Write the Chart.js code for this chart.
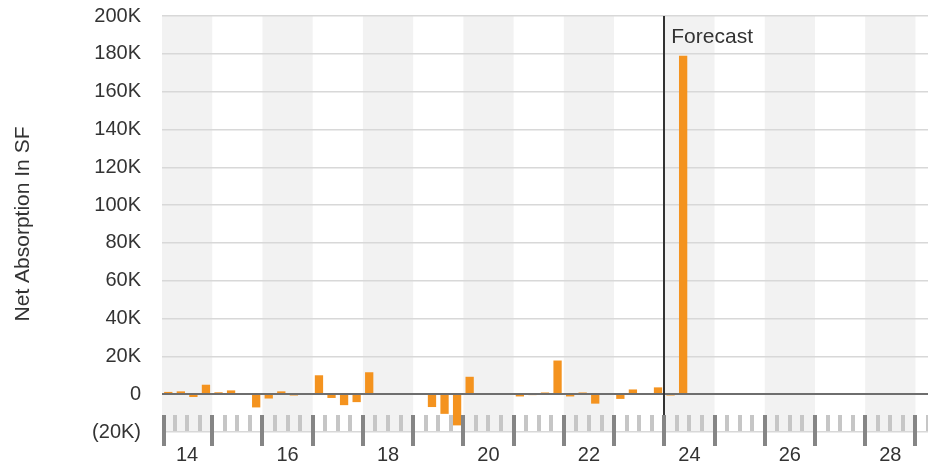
<!DOCTYPE html>
<html>
<head>
<meta charset="utf-8">
<script src="https://cdn.jsdelivr.net/npm/chart.js@4.4.1/dist/chart.umd.min.js"></script>
<style>
  html, body { margin: 0; padding: 0; background: #fff; }
  #wrap { width: 928px; height: 469px; }
</style>
</head>
<body>
<div id="wrap"><canvas id="absorption"></canvas></div>
<script>
// years on the axis (2014 - 2028), four quarters each
const years = ['14', '15', '16', '17', '18', '19', '20', '21', '22', '23', '24', '25', '26', '27', '28'];
const quarters = ['Q1', 'Q2', 'Q3', 'Q4'];

// net absorption per quarter, SF
const netAbsorption = [
  1200, 1500, -1500, 5000,      // 14
  1000, 2000, 0, -7000,         // 15
  -2300, 1500, -700, 0,         // 16
  10000, -2000, -5800, -4200,   // 17
  11600, 0, 0, 0,               // 18
  0, -6800, -10400, -16500,     // 19
  9200, 200, 200, 200,          // 20
  -1200, -500, 900, 17800,      // 21
  -1200, 900, -5000, -400,      // 22
  -2500, 2500, 0, 3600,         // 23
  -700, 179000, -400, 0,        // 24
  -200, -200, -200, 0,          // 25
  0, 200, 300, 500,             // 26
  600, 600, 600, 600,           // 27
  600, 600, 600, 600            // 28
];

const forecastYear = '24';
const yMin = -20000, yMax = 200000, yStep = 20000;

const quarterLabels = [];
years.forEach(y => quarters.forEach(q => quarterLabels.push(q + ' ' + y)));
const points = netAbsorption.map((v, i) => ({ x: i + 0.5, y: v, label: quarterLabels[i] }));

const fmtK = v => v === 0 ? '0' : (v < 0 ? '(' + Math.abs(v) / 1000 + 'K)' : v / 1000 + 'K');

const decor = {
  id: 'decor',
  beforeDraw(chart) {
    const { ctx, chartArea: a, scales: { x } } = chart;
    ctx.save();
    ctx.fillStyle = '#f2f2f2';
    years.forEach((yr, i) => {
      if (i % 2) return;
      const l = x.getPixelForValue(i * 4), r = x.getPixelForValue(i * 4 + 4);
      ctx.fillRect(l, a.top, r - l, a.bottom - a.top);
    });
    ctx.restore();
  },
  afterDatasetsDraw(chart) {
    const { ctx, chartArea: a, scales: { x, y } } = chart;
    ctx.save();
    // zero line
    const y0 = Math.round(y.getPixelForValue(0));
    ctx.fillStyle = '#6e6e6e';
    ctx.fillRect(a.left, y0 - 1, a.right - a.left, 2);
    // forecast divider
    const fx = x.getPixelForValue(years.indexOf(forecastYear) * 4);
    ctx.fillStyle = '#333';
    ctx.fillRect(Math.round(fx) - 1, a.top, 2, a.bottom - 17 - a.top);
    ctx.font = '21px "Liberation Sans", Arial, sans-serif';
    ctx.textBaseline = 'middle';
    ctx.fillText('Forecast', fx + 7, a.top + 21);
    // quarter / year tick marks
    const n = years.length * 4;
    for (let q = 0; q <= n + 1; q++) {
      const px = Math.round(x.getPixelForValue(q));
      const left = q === 0 ? px : px - 2;
      if (q % 4 === 0) {
        ctx.fillStyle = '#858585';
        ctx.fillRect(left, a.bottom - 17, 4, 31);
      } else {
        ctx.fillStyle = '#c6c6c6';
        ctx.fillRect(left, a.bottom - 17, 4, 16);
      }
    }
    ctx.restore();
  }
};

new Chart(document.getElementById('absorption'), {
  type: 'bar',
  data: {
    datasets: [{
      label: 'Net Absorption In SF',
      data: points,
      backgroundColor: '#f4931f',
      borderWidth: 0,
      barPercentage: 0.66,
      categoryPercentage: 1
    }]
  },
  options: {
    responsive: true,
    maintainAspectRatio: false,
    animation: false,
    layout: { padding: { top: 16, right: 0, bottom: 0, left: 0 } },
    plugins: {
      legend: { display: false },
      tooltip: { enabled: false }
    },
    scales: {
      x: {
        type: 'linear',
        min: 0,
        max: years.length * 4 + 1,
        offset: false,
        grid: { display: false, drawTicks: false },
        border: { display: false },
        afterFit(scale) {
          scale.height = 37;
          scale.paddingLeft = 0;
          scale.paddingRight = 0;
        },
        ticks: {
          stepSize: 1,
          autoSkip: false,
          maxRotation: 0,
          padding: 11,
          color: '#333',
          font: { family: '"Liberation Sans", Arial, sans-serif', size: 20 },
          callback(v) {
            if (v % 4 !== 2) return '';
            const i = (v - 2) / 4;
            return i % 2 === 0 && years[i] ? years[i] : '';
          }
        }
      },
      y: {
        min: yMin,
        max: yMax,
        grid: {
          color: ctx => ctx.tick && ctx.tick.value === 0 ? 'rgba(0,0,0,0)' : '#d8d8d8',
          lineWidth: 1.5,
          drawTicks: false
        },
        border: { display: false },
        afterFit(scale) {
          scale.width = 162;
          scale.paddingTop = 0;
          scale.paddingBottom = 0;
        },
        ticks: {
          stepSize: yStep,
          padding: 21,
          color: '#333',
          font: { family: '"Liberation Sans", Arial, sans-serif', size: 20 },
          callback: v => fmtK(v)
        },
        title: {
          display: true,
          text: 'Net Absorption In SF',
          color: '#333',
          padding: { top: 11, bottom: 0 },
          font: { family: '"Liberation Sans", Arial, sans-serif', size: 21 }
        }
      }
    }
  },
  plugins: [decor]
});
</script>
</body>
</html>
